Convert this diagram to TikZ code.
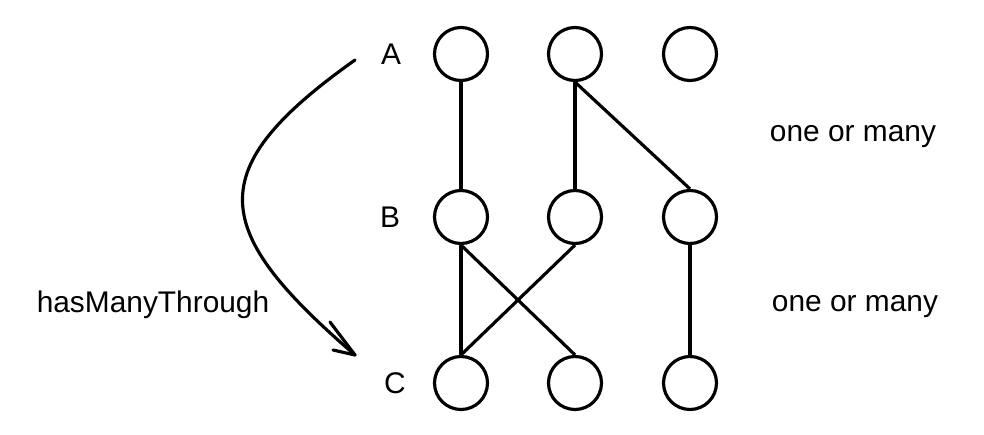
\documentclass[tikz,border=0pt]{standalone}
\usepackage{fontspec}
\setmainfont{Liberation Sans}
\begin{document}
\begin{tikzpicture}[x=0.02cm,y=-0.02cm,
  c/.style={circle,draw,line width=1.8pt,minimum size=1.06cm,inner sep=0pt},
  l/.style={line width=1.8pt},
  t/.style={font=\fontsize{17}{20}\selectfont}]
\useasboundingbox (0,0) rectangle (984,435);
\foreach \n/\x/\y in {a1/461/54,a2/575/54,a3/690/54,b1/461/217,b2/575/217,b3/690/217,c1/461/383,c2/575/383,c3/690/383}
  \node[c] (\n) at (\x,\y) {};
\node[t] (A) at (391,54) {A};
\node[t] (B) at (390,217) {B};
\node[t] (C) at (395,383) {C};
\node[t] (h) at (153,305) {hasManyThrough};
\node[t] (o1) at (853,137) {one or many};
\node[t] (o2) at (855,307) {one or many};
\draw[l] (a1) -- (b1);
\draw[l] (a2) -- (b2);
\draw[l] (a2.south) -- (b3.north);
\draw[l] (b1.south) -- (c1.north);
\draw[l] (b1.south) -- (c2.north);
\draw[l] (b2.south) -- (c1.north);
\draw[l] (b3) -- (c3);
\coordinate (s) at (355,60);
\coordinate (e) at (355,355);
\draw[l,line cap=round] (s) .. controls (200,170) and (210,230) .. (e);
\draw[l,line cap=round,line join=round] (330,322) -- (355,355) -- (333,350);
\end{tikzpicture}
\end{document}
